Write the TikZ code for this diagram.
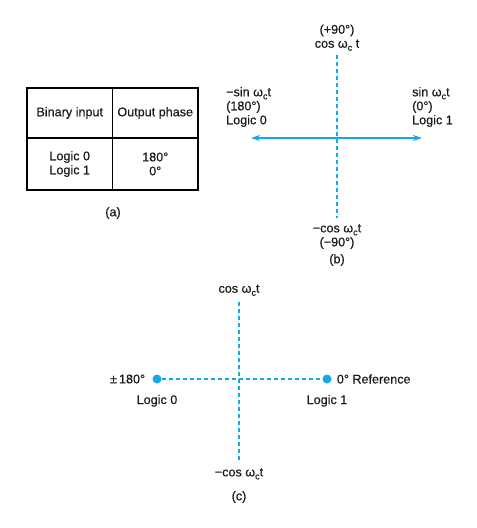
\documentclass[tikz,border=0pt]{standalone}
\usepackage{fontspec}
\setmainfont{Liberation Sans}[FakeBold=0.4]
\usetikzlibrary{positioning,arrows.meta}
\definecolor{phaseblue}{RGB}{20,168,228}
\newcommand{\wc}{ω\raisebox{-0.45ex}{\small c}}
\begin{document}
\begin{tikzpicture}[x=1pt, y=-1pt,
    every node/.style={font=\fontsize{12.6}{14}\selectfont, text=black!90, inner sep=0pt, align=center},
    cell/.style={draw, line width=1.3pt, outer sep=0pt, minimum width=85.5pt, minimum height=50pt},
    axis/.style={draw=phaseblue, dash pattern=on 4pt off 3pt, line width=1.15pt},
    dot/.style={circle, fill=phaseblue, minimum size=9pt}
  ]
  \useasboundingbox (0,0) rectangle (477,528);

  % (a) truth table
  \node[cell] (bin) at (69.75,113) {Binary input};
  \node[cell, right=0pt of bin] (out) {Output phase};
  \node[cell, minimum height=52pt, below=0pt of bin] (logic) {Logic 0\\Logic 1};
  \node[cell, minimum height=52pt, below=0pt of out] (phase) {180°\\0°};
  \node (capa) at (113,213) {(a)};

  % (b) phasor diagram
  \coordinate (bT) at (337,55);
  \coordinate (bB) at (337,218);
  \coordinate (bL) at (251,138);
  \coordinate (bR) at (422,138);
  \draw[axis] (bT) -- (bB);
  \draw[phaseblue, line width=1.6pt, {Stealth[length=9pt,width=6pt]}-{Stealth[length=9pt,width=6pt]}] (bL) -- (bR);
  \node[above=4pt of bT] (btop) {(+90°)\\cos \wc\ t};
  \node[anchor=west, align=left] (bleft) at (226,107) {−sin \wc t\\(180°)\\Logic 0};
  \node[anchor=west, align=left] (bright) at (412,107) {sin \wc t\\(0°)\\Logic 1};
  \node[below=6pt of bB] (bbot) {−cos \wc t\\(−90°)};
  \node (capb) at (337,260) {(b)};

  % (c) constellation
  \coordinate (cT) at (239,302);
  \coordinate (cB) at (239,463);
  \node[dot] (zero) at (157,379) {};
  \node[dot] (one) at (327,379) {};
  \draw[axis] (cT) -- (cB);
  \draw[axis] (zero) -- (one);
  \node[above=6pt of cT] (ctop) {cos \wc t};
  \node[below=5pt of cB] (cbot) {−cos \wc t};
  \node[left=7pt of zero] (deg180) {±\,180°};
  \node[right=5pt of one] (ref) {0° Reference};
  \node[below=11pt of zero] (lzero) {Logic 0};
  \node[below=11pt of one] (lone) {Logic 1};
  \node (capc) at (239,497) {(c)};
\end{tikzpicture}
\end{document}
